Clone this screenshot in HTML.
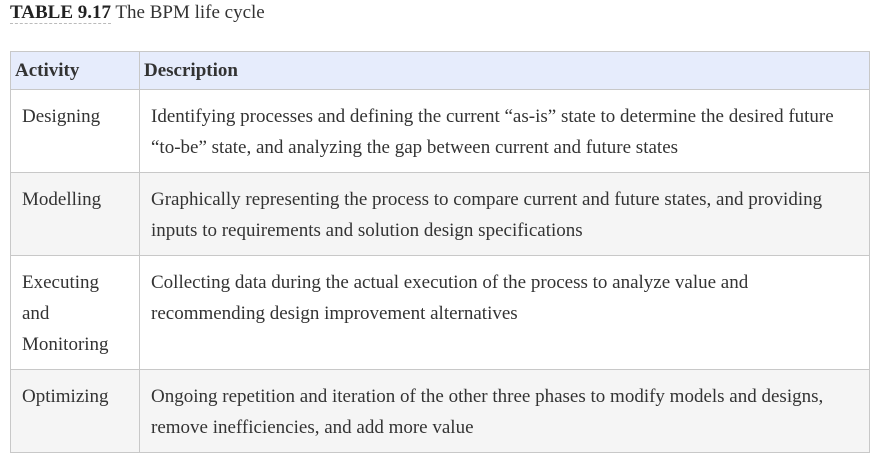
<!DOCTYPE html>
<html><head><meta charset="utf-8"><style>
body{margin:0;background:#fff;width:882px;height:462px;overflow:hidden;font-family:"Liberation Serif",serif;color:#333;}
.cap{position:absolute;left:10px;top:1px;font-size:19px;line-height:24px;color:#333}
.cap b{color:#222;border-bottom:1px dashed #bbb}
table{position:absolute;left:10px;top:51px;width:860px;border-collapse:collapse;font-size:19px;line-height:31px;table-layout:fixed}
td,th{border:1px solid #c8c8c8;vertical-align:top;text-align:left;white-space:nowrap;overflow:hidden}
th{background:#e6ecfc;font-weight:bold;padding:4px 4px;height:29px;line-height:29px}
td{padding:11px 10px 0 11px}
tr.g td{background:#f5f5f5}
</style></head><body>
<div class="cap"><b>TABLE 9.17</b> The BPM life cycle</div>
<table>
<colgroup><col style="width:129px"><col></colgroup>
<tr><th>Activity</th><th>Description</th></tr>
<tr style="height:83px"><td>Designing</td><td>Identifying processes and defining the current “as-is” state to determine the desired future<br>“to-be” state, and analyzing the gap between current and future states</td></tr>
<tr class="g" style="height:83px"><td>Modelling</td><td>Graphically representing the process to compare current and future states, and providing<br>inputs to requirements and solution design specifications</td></tr>
<tr style="height:114px"><td>Executing<br>and<br>Monitoring</td><td>Collecting data during the actual execution of the process to analyze value and<br>recommending design improvement alternatives</td></tr>
<tr class="g" style="height:83px"><td>Optimizing</td><td>Ongoing repetition and iteration of the other three phases to modify models and designs,<br>remove inefficiencies, and add more value</td></tr>
</table>
</body></html>
